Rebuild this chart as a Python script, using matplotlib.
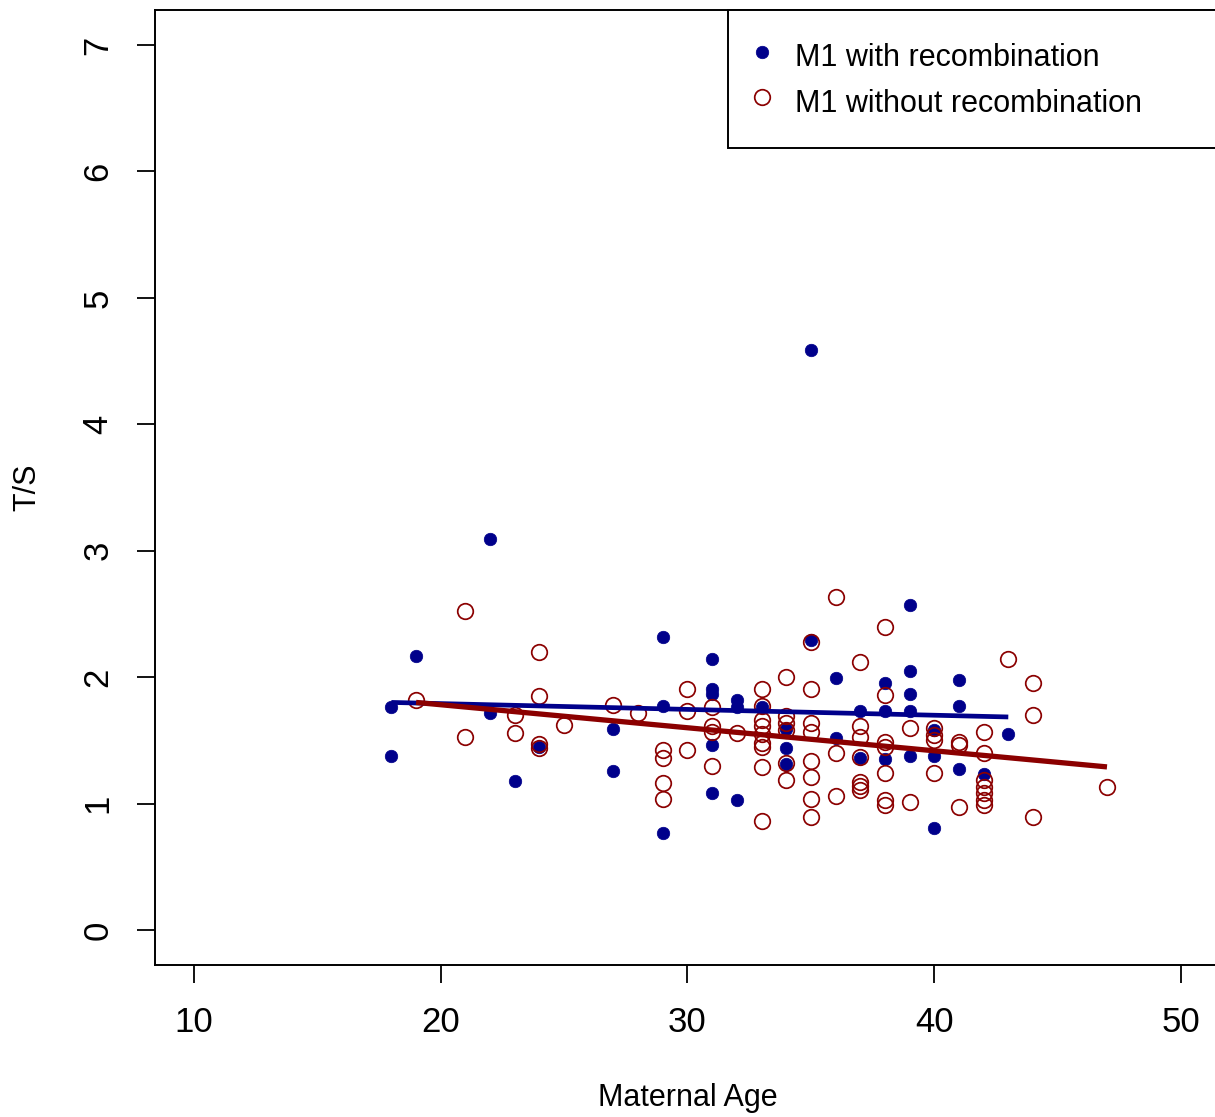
import matplotlib
matplotlib.use("Agg")
import matplotlib.pyplot as plt

# ---- data ----
rec_age = [18, 18, 19, 22, 22, 23, 24, 27, 27, 29, 29, 29, 31, 31, 31, 31, 31,
           32, 32, 32, 33, 34, 34, 34, 35, 35, 36, 36, 37, 37, 38, 38, 38,
           39, 39, 39, 39, 39, 40, 40, 40, 41, 41, 41, 42, 43]
rec_ts = [1.76, 1.38, 2.17, 3.09, 1.72, 1.18, 1.45, 1.59, 1.26, 2.32, 1.77, 0.77,
          2.14, 1.91, 1.87, 1.46, 1.08, 1.82, 1.76, 1.03, 1.76, 1.59, 1.44, 1.31,
          4.59, 2.29, 1.99, 1.52, 1.73, 1.36, 1.95, 1.73, 1.35, 2.57, 2.05, 1.87,
          1.73, 1.38, 1.58, 1.38, 0.81, 1.98, 1.77, 1.27, 1.23, 1.55]

norec_age = [19, 21, 21, 23, 23, 24, 24, 24, 24, 25, 27, 28,
             29, 29, 29, 29, 30, 30, 30, 31, 31, 31, 31, 32,
             33, 33, 33, 33, 33, 33, 33, 33, 33,
             34, 34, 34, 34, 34, 34,
             35, 35, 35, 35, 35, 35, 35, 35,
             36, 36, 36,
             37, 37, 37, 37, 37, 37, 37,
             38, 38, 38, 38, 38, 38, 38,
             39, 39, 40, 40, 40, 40, 41, 41, 41,
             42, 42, 42, 42, 42, 42, 42, 43, 44, 44, 44, 47]
norec_ts = [1.82, 2.52, 1.53, 1.70, 1.56, 2.20, 1.85, 1.47, 1.44, 1.62, 1.78, 1.72,
            1.42, 1.36, 1.16, 1.04, 1.91, 1.73, 1.42, 1.76, 1.61, 1.57, 1.30, 1.56,
            1.91, 1.77, 1.66, 1.61, 1.55, 1.48, 1.45, 1.29, 0.86,
            2.00, 1.69, 1.64, 1.58, 1.32, 1.19,
            2.28, 1.91, 1.64, 1.57, 1.34, 1.21, 1.04, 0.89,
            2.63, 1.40, 1.06,
            2.12, 1.61, 1.53, 1.37, 1.17, 1.14, 1.11,
            2.40, 1.86, 1.49, 1.45, 1.24, 1.03, 0.99,
            1.60, 1.01, 1.60, 1.54, 1.50, 1.24, 1.49, 1.46, 0.97,
            1.57, 1.40, 1.19, 1.13, 1.08, 1.03, 0.99, 2.14, 1.95, 1.70, 0.89, 1.13]

# fitted trend lines (endpoints)
rec_fit_age = [18, 43]
rec_fit_ts = [1.80, 1.685]
norec_fit_age = [19, 47]
norec_fit_ts = [1.80, 1.29]

x_ticks = [10, 20, 30, 40, 50]
y_ticks = [0, 1, 2, 3, 4, 5, 6, 7]

BLUE = "#00008B"
RED = "#8B0000"

plt.rcParams["font.family"] = ["Liberation Sans", "DejaVu Sans"]
TICK_FAMILY = ["Liberation Sans Narrow", "Liberation Sans", "DejaVu Sans"]

W, H = 1215, 1117
fig = plt.figure(figsize=(W / 100, H / 100), dpi=100)
left, right = 154.5 / W, 1220.5 / W
bottom, top = (H - 965.4) / H, (H - 9.6) / H
ax = fig.add_axes([left, bottom, right - left, top - bottom])

ax.plot(rec_age, rec_ts, linestyle="none", marker="o", markersize=9,
        markerfacecolor=BLUE, markeredgecolor=BLUE, markeredgewidth=0.5,
        label="M1 with recombination", zorder=3)
ax.plot(norec_age, norec_ts, linestyle="none", marker="o", markersize=11.2,
        markerfacecolor="none", markeredgecolor=RED, markeredgewidth=1.25,
        label="M1 without recombination", zorder=3)
ax.plot(rec_fit_age, rec_fit_ts, color=BLUE, linewidth=3.4, solid_capstyle="butt", zorder=4)
ax.plot(norec_fit_age, norec_fit_ts, color=RED, linewidth=3.8, solid_capstyle="butt", zorder=4)

ax.set_xlim(8.4, 51.6)
ax.set_ylim(-0.28, 7.28)
ax.set_xticks(x_ticks)
ax.set_yticks(y_ticks)
ax.set_xticklabels([str(v) for v in x_ticks], family=TICK_FAMILY, fontsize=25)
ax.set_yticklabels([str(v) for v in y_ticks], rotation=90, va="center",
                   family=TICK_FAMILY, fontsize=25)
ax.tick_params(axis="both", length=13, width=1.3, pad=16, color="black")
for s in ax.spines.values():
    s.set_linewidth(1.4)

ax.set_xlabel("Maternal Age", fontsize=22, labelpad=32)
ax.set_ylabel("T/S", fontsize=22, labelpad=28)

leg = ax.legend(loc="upper left", bbox_to_anchor=(0.538, 1.0, 0.462, 0.0),
                mode="expand", borderaxespad=0, fancybox=False, framealpha=1,
                edgecolor="black", fontsize=22, borderpad=0.92, labelspacing=0.26,
                handleheight=1.5, handlelength=0.39, handletextpad=0.89)
leg.get_frame().set_linewidth(1.4)

fig.savefig("out.png", dpi=100)
